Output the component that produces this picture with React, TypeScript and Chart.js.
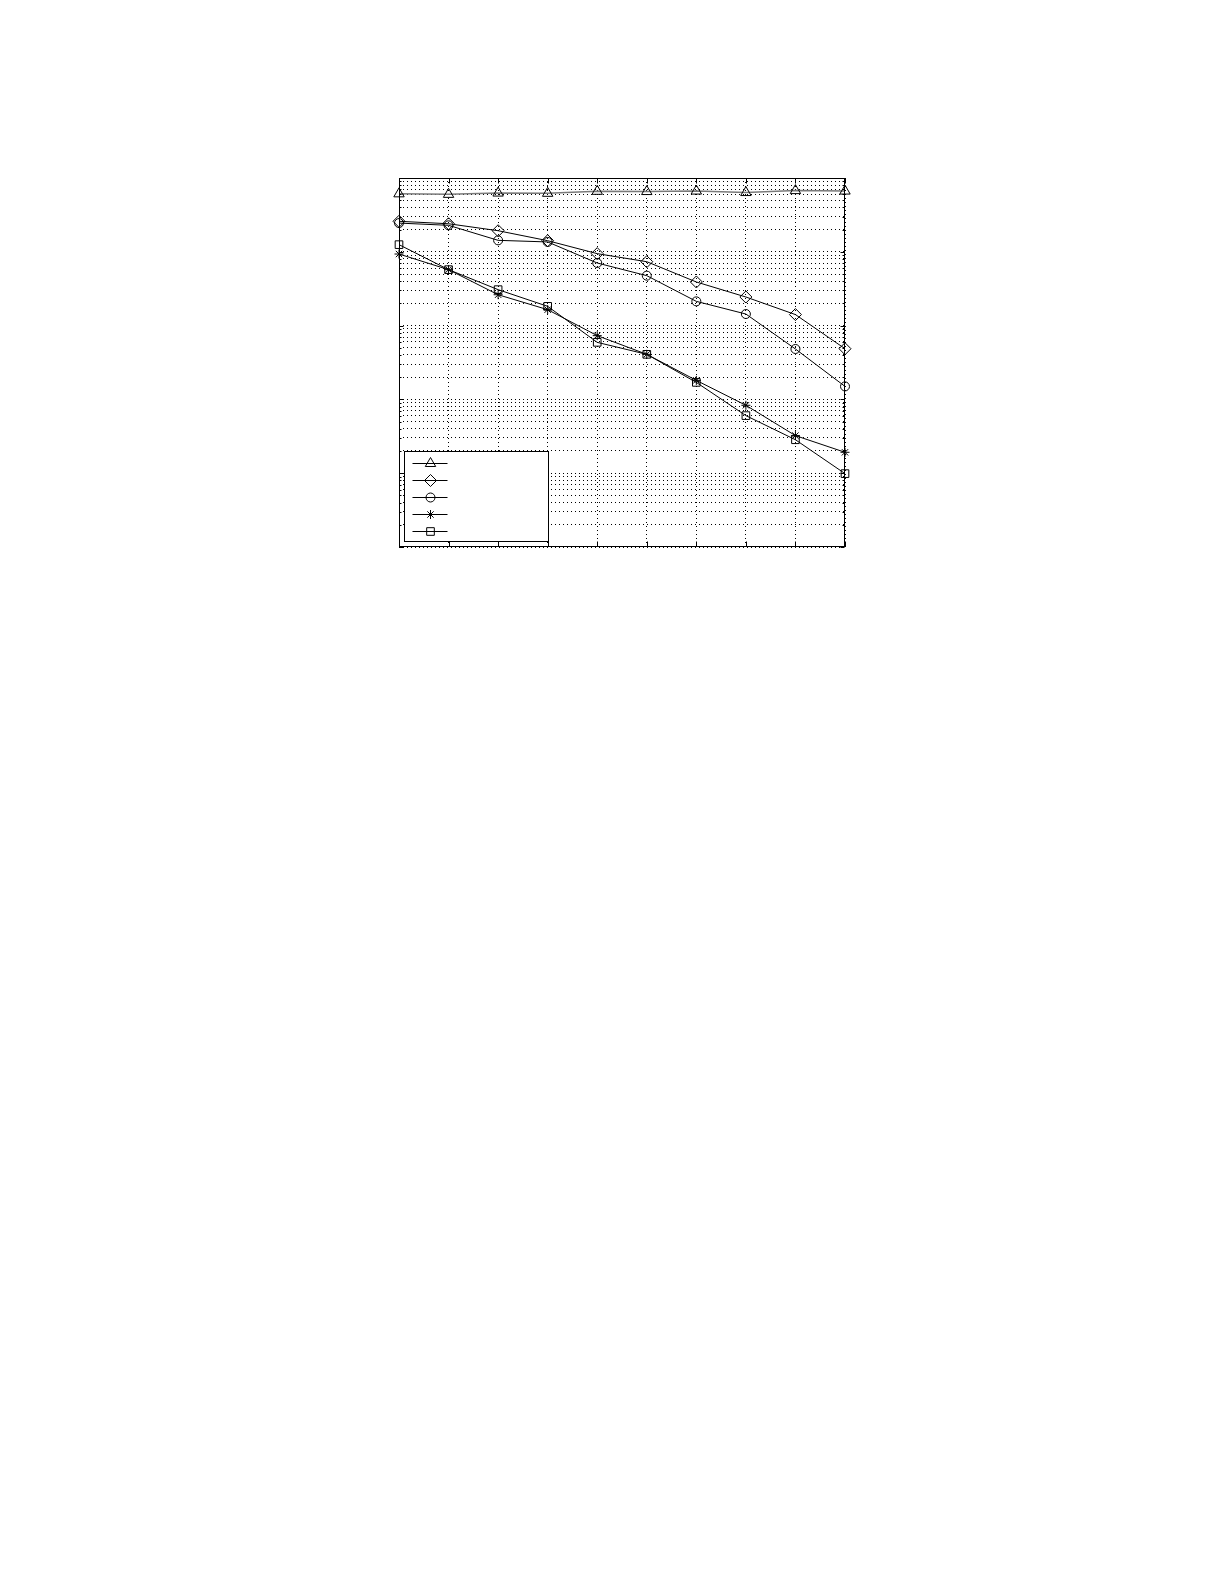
import { useEffect, useRef } from 'react';
import { Chart, registerables } from 'chart.js';
import { drawPoint } from 'chart.js/helpers';

Chart.register(...registerables);

// x positions of the 10 measurements
const xValues = [1, 2, 3, 4, 5, 6, 7, 8, 9, 10];

// one array per curve (1e-5 .. 1)
const triangleValues = [0.61, 0.6, 0.625, 0.62, 0.66, 0.655, 0.665, 0.635, 0.675, 0.665];
const diamondValues = [0.259, 0.24, 0.193, 0.1415, 0.0944, 0.0734, 0.039, 0.0244, 0.0141, 0.00486];
const circleValues = [0.245, 0.2285, 0.143, 0.136, 0.0705, 0.0475, 0.0213, 0.01435, 0.00482, 0.0015];
const starValues = [0.0933, 0.0573, 0.0262, 0.01644, 0.00731, 0.00408, 0.00181, 0.000832, 0.000323, 0.000192];
const squareValues = [0.125, 0.0573, 0.0307, 0.01824, 0.00593, 0.00408, 0.0017, 0.000603, 0.000284, 0.0000987];

const yMin = 1e-5;
const yMax = 1;

const seriesList = [
  { values: triangleValues, style: 'triangle', radius: 6, color: '#7a7a7a', width: 1.5 },
  { values: diamondValues, style: 'rectRot', radius: 6, color: '#000', width: 1 },
  { values: circleValues, style: 'circle', radius: 4.5, color: '#000', width: 1 },
  { values: starValues, style: 'star', radius: 4.5, color: '#000', width: 1 },
  { values: squareValues, style: 'rect', radius: 5.4, color: '#000', width: 1 },
];

const framePlugin = {
  id: 'matlabFrame',
  afterDraw(chart: any) {
    const { ctx, chartArea: a, scales } = chart;
    const L = Math.round(a.left) + 0.5;
    const R = Math.round(a.right) - 0.5;
    const T = Math.round(a.top) + 0.5;
    const B = Math.round(a.bottom) - 0.5;
    ctx.save();
    ctx.setLineDash([]);
    ctx.strokeStyle = '#000';
    ctx.lineWidth = 1;

    // inward tick marks
    ctx.beginPath();
    scales.x.ticks.forEach((t: any) => {
      const px = Math.round(scales.x.getPixelForValue(t.value)) + 0.5;
      ctx.moveTo(px, B);
      ctx.lineTo(px, B - 5);
      ctx.moveTo(px, T);
      ctx.lineTo(px, T + 5);
    });
    scales.y.ticks.forEach((t: any) => {
      const py = Math.round(scales.y.getPixelForValue(t.value)) + 0.5;
      const len = t.major ? 4 : 2;
      ctx.moveTo(L, py);
      ctx.lineTo(L + len, py);
      ctx.moveTo(R, py);
      ctx.lineTo(R - len, py);
    });
    ctx.stroke();

    // legend box (no text, markers only)
    const bx = L + 5;
    const by = B - 95;
    const bw = 144;
    const bh = 90;
    ctx.fillStyle = '#fff';
    ctx.fillRect(bx, by, bw, bh);
    ctx.strokeRect(bx, by, bw, bh);
    chart.data.datasets.forEach((ds: any, i: number) => {
      const y = Math.round(by + 11 + i * 17.2) + 0.5;
      ctx.strokeStyle = '#000';
      ctx.lineWidth = 1;
      ctx.beginPath();
      ctx.moveTo(bx + 8, y);
      ctx.lineTo(bx + 43, y);
      ctx.stroke();
      ctx.fillStyle = 'rgba(0,0,0,0)';
      drawPoint(ctx, { pointStyle: ds.pointStyle, radius: ds.pointRadius, rotation: 0, borderWidth: 1 }, bx + 26, y);
    });

    // axes box
    ctx.strokeStyle = '#000';
    ctx.lineWidth = 1;
    ctx.strokeRect(L, T, R - L, B - T);
    ctx.restore();
  },
};

export default function App() {
  const canvasRef = useRef<HTMLCanvasElement | null>(null);
  const chartRef = useRef<Chart | null>(null);

  useEffect(() => {
    if (!canvasRef.current) return;
    if (chartRef.current) chartRef.current.destroy();

    chartRef.current = new Chart(canvasRef.current, {
      type: 'line',
      data: {
        datasets: seriesList.map((s) => ({
          label: '',
          data: xValues.map((x, i) => ({ x, y: s.values[i] })),
          borderColor: s.color,
          borderWidth: s.width,
          tension: 0,
          pointStyle: s.style as any,
          pointRadius: s.radius,
          pointBorderWidth: 1,
          pointBorderColor: '#000',
          pointBackgroundColor: 'rgba(0,0,0,0)',
          clip: false as any,
        })),
      },
      options: {
        responsive: false,
        animation: false,
        devicePixelRatio: 1,
        layout: { padding: { left: 19, top: 18, right: 15, bottom: 13 } },
        plugins: { legend: { display: false }, tooltip: { enabled: false } },
        scales: {
          x: {
            type: 'linear',
            min: 1,
            max: 10,
            ticks: { display: false, stepSize: 1 },
            grid: { color: '#000', lineWidth: 1, drawTicks: false },
            border: { display: false, dash: [1, 3] },
          },
          y: {
            type: 'logarithmic',
            min: yMin,
            max: yMax,
            ticks: { display: false },
            grid: { color: '#000', lineWidth: 1, drawTicks: false },
            border: { display: false, dash: [1, 3] },
            afterBuildTicks: (scale: any) => {
              const ticks: any[] = [];
              const lo = Math.round(Math.log10(scale.min));
              const hi = Math.round(Math.log10(scale.max));
              for (let e = lo; e < hi; e++) {
                for (let m = 1; m <= 9; m++) ticks.push({ value: m * Math.pow(10, e), major: m === 1 });
              }
              ticks.push({ value: Math.pow(10, hi), major: true });
              scale.ticks = ticks;
            },
          },
        },
      },
      plugins: [framePlugin],
    });

    return () => {
      if (chartRef.current) {
        chartRef.current.destroy();
        chartRef.current = null;
      }
    };
  }, []);

  return (
    <div style={{ position: 'absolute', left: 380, top: 160, width: 480, height: 400 }}>
      <canvas ref={canvasRef} width={480} height={400} style={{ width: 480, height: 400 }}></canvas>
    </div>
  );
}
